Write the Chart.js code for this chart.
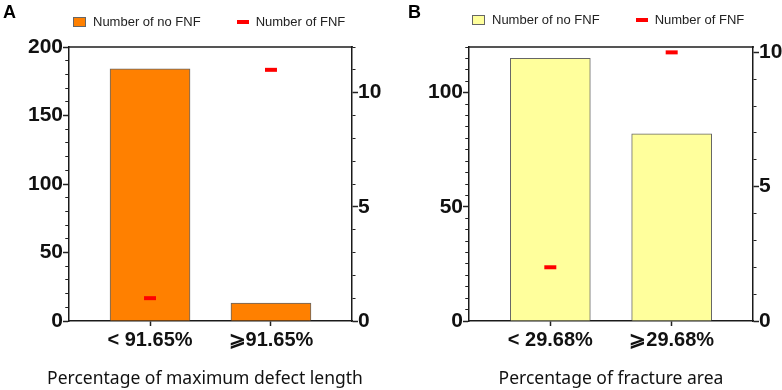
<!DOCTYPE html>
<html>
<head>
<meta charset="utf-8">
<script src="https://cdn.jsdelivr.net/npm/chart.js@4.4.1/dist/chart.umd.min.js"></script>
<style>
  body { margin: 0; background: #fff; }
  #wrap { position: relative; width: 782px; height: 390px; overflow: hidden; font-family: "Liberation Sans", Arial, sans-serif; }
  .panel { position: absolute; top: 0; width: 391px; height: 390px; }
  .tag { position: absolute; top: 3px; font-weight: bold; font-size: 18px; line-height: 18px; color: #000; }
  .legend { position: absolute; display: flex; gap: 36px; font-size: 13px; line-height: 15px; color: #222; white-space: nowrap; }
  .legend .item { display: flex; align-items: center; }
  .legend .swatch { display: inline-block; box-sizing: border-box; margin-right: 7px; }
  .xtitle { position: absolute; top: 365px; width: 400px; margin-left: -200px; text-align: center; font-family: "Noto Sans", sans-serif; font-size: 17.5px; line-height: 24px; color: #111; white-space: nowrap; }
</style>
</head>
<body>
<div id="wrap">
  <div class="panel" style="left:0">
    <canvas id="chartA" width="391" height="390"></canvas>
    <div class="tag" style="left:3px">A</div>
    <div class="legend" id="legendA" style="left:73px; top:14px"></div>
    <div class="xtitle" id="titleA" style="left:205px"></div>
  </div>
  <div class="panel" style="left:391px">
    <canvas id="chartB" width="391" height="390"></canvas>
    <div class="tag" style="left:17px">B</div>
    <div class="legend" id="legendB" style="left:81px; top:12px"></div>
    <div class="xtitle" id="titleB" style="left:220px"></div>
  </div>
</div>
<script>
// data
const seriesNames = ["Number of no FNF", "Number of FNF"];

const catsA = ["< 91.65%", "⩾91.65%"];
const noFnfA = [184, 13];
const fnfA = [1, 11];
const leftTicksA = [0, 50, 100, 150, 200];
const rightTicksA = [0, 5, 10];
const xTitleA = "Percentage of maximum defect length";

const catsB = ["< 29.68%", "⩾29.68%"];
const noFnfB = [115, 82];
const fnfB = [2, 10];
const leftTicksB = [0, 50, 100];
const rightTicksB = [0, 5, 10];
const xTitleB = "Percentage of fracture area";

const tickFont = { family: "Liberation Sans", size: 21, weight: "bold" };
const catFont = { family: "Liberation Sans", size: 20, weight: "bold" };

function stepTicks(min, max, step) {
    const out = [];
    for (let v = min; v <= max + 1e-9; v += step) out.push({ value: Math.round(v * 100) / 100 });
    return out;
}

// y axis with minor ticks (drawn shorter via dash), labels only on the major ones
function yAxis(position, max, step, labelled, width) {
    const minorDash = position === "left" ? [0, 2.25, 3, 20] : [3, 20];
    return {
        type: "linear",
        position: position,
        min: 0,
        max: max,
        afterBuildTicks: axis => { axis.ticks = stepTicks(0, max, step); },
        afterFit: axis => { axis.width = width; },
        ticks: {
            autoSkip: false,
            padding: 0,
            color: "#111",
            font: tickFont,
            callback: v => labelled.includes(v) ? v : ""
        },
        grid: {
            drawOnChartArea: false,
            tickLength: 6,
            tickColor: "#222",
            tickWidth: ctx => labelled.includes(ctx.tick.value) ? 1.5 : 1,
            tickBorderDash: ctx => labelled.includes(ctx.tick.value) ? [] : minorDash
        },
        border: { color: "#1a1a1a", width: 1.5 }
    };
}

function makePanel(id, cats, bars, marks, barColor, left, right) {
    const ctx = document.getElementById(id).getContext("2d");
    return new Chart(ctx, {
        type: "bar",
        data: {
            datasets: [
                {
                    label: seriesNames[0],
                    data: bars.map((v, i) => ({ x: i, y: v })),
                    backgroundColor: barColor,
                    borderColor: "#666",
                    borderWidth: 1,
                    barThickness: 80,
                    yAxisID: "y",
                    order: 1
                },
                {
                    type: "line",
                    label: seriesNames[1],
                    data: marks.map((v, i) => ({ x: i, y: v })),
                    yAxisID: "y1",
                    showLine: false,
                    pointStyle: "line",
                    pointRadius: 6,
                    pointHoverRadius: 6,
                    pointBorderWidth: 4,
                    borderColor: "#ff0000",
                    backgroundColor: "#ff0000",
                    clip: false,
                    order: 0
                }
            ]
        },
        options: {
            responsive: false,
            animation: false,
            events: [],
            layout: { padding: { top: 39, left: 0, right: 0, bottom: 0 } },
            plugins: { legend: { display: false }, tooltip: { enabled: false } },
            scales: {
                x: {
                    type: "linear",
                    position: "bottom",
                    offset: false,
                    min: -0.67,
                    max: 1.67,
                    afterBuildTicks: axis => { axis.ticks = cats.map((c, i) => ({ value: i })); },
                    afterFit: axis => { axis.height = 69; },
                    ticks: {
                        autoSkip: false,
                        maxRotation: 0,
                        padding: 2,
                        color: "#111",
                        font: catFont,
                        callback: v => cats[v]
                    },
                    grid: { offset: false, drawOnChartArea: false, tickLength: 5, tickColor: "#222", tickWidth: 1.5 },
                    border: { color: "#1a1a1a", width: 1.5 }
                },
                top: {
                    type: "linear",
                    axis: "x",
                    position: "top",
                    min: 0,
                    max: 1,
                    ticks: { display: false },
                    grid: { display: false },
                    border: { color: "#555", width: 2 }
                },
                y: left,
                y1: right
            }
        }
    });
}

function buildLegend(el, chart) {
    chart.data.datasets.forEach(ds => {
        const item = document.createElement("span");
        item.className = "item";
        const sw = document.createElement("span");
        sw.className = "swatch";
        if (ds.type === "line") {
            sw.style.width = "12px";
            sw.style.height = "4px";
            sw.style.background = ds.borderColor;
        } else {
            sw.style.width = "13px";
            sw.style.height = "10px";
            sw.style.background = ds.backgroundColor;
            sw.style.border = "1px solid " + ds.borderColor;
        }
        item.appendChild(sw);
        item.appendChild(document.createTextNode(ds.label));
        el.appendChild(item);
    });
}

const chartA = makePanel("chartA", catsA, noFnfA, fnfA, "#ff8000",
    yAxis("left", 200, 10, leftTicksA, 69),
    yAxis("right", 12, 1, rightTicksA, 39));

const chartB = makePanel("chartB", catsB, noFnfB, fnfB, "#ffff9c",
    yAxis("left", 120, 5, leftTicksB, 78),
    yAxis("right", 10.2, 1, rightTicksB, 29));

buildLegend(document.getElementById("legendA"), chartA);
buildLegend(document.getElementById("legendB"), chartB);
document.getElementById("titleA").textContent = xTitleA;
document.getElementById("titleB").textContent = xTitleB;
</script>
</body>
</html>
